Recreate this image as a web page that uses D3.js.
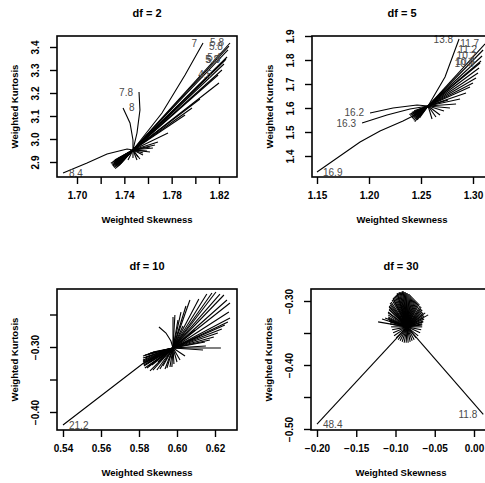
<!DOCTYPE html>
<html>

<head>
    <meta charset='utf-8'>
</head>
<style>
    body {
        margin: 0;
        background: #fff;
    }

    text {
        font-family: "Liberation Sans", Arial, sans-serif;
    }

    .ray {
        fill: none;
        stroke: #000;
        stroke-width: 1.1px;
    }

    .box {
        fill: none;
        stroke: #000;
        stroke-width: 1.6px;
    }

    .lab {
        fill: #4a4a4a;
        font-size: 10px;
    }

    .tick text {
        font-weight: bold;
        font-size: 10px;
        fill: #000;
    }

    .tick line {
        stroke: #000;
        stroke-width: 1.4px;
    }

    .ttl {
        font-weight: bold;
        font-size: 11px;
    }

    .axt {
        font-weight: bold;
        font-size: 9.5px;
    }
</style>

<body>
    <div id='chart'></div>
    <script src="https://d3js.org/d3.v7.min.js"></script>
    <script>
        // ---- df = 2 ----
        var df2Center = [1.7473, 2.9522];
        var df2Curves = [
            { label: "8.4", pts: [[1.6882, 2.852], [1.7085, 2.8957], [1.7254, 2.9348], [1.7423, 2.9565]] },
            { label: "8", pts: [[1.7389, 3.1348], [1.7448, 3.0696], [1.7473, 2.9957]] },
            { label: "7.8", pts: [[1.7524, 3.2043], [1.7532, 3.126], [1.7507, 3.026]] },
            { label: "7", pts: [[1.8065, 3.417], [1.7913, 3.278], [1.7718, 3.113]] },
            { label: "5.8", pts: [[1.8293, 3.4174]] },
            { label: "5.8", pts: [[1.8284, 3.4043]] },
            { label: "5.4", pts: [[1.8268, 3.3565]] },
            { label: "5.3", pts: [[1.8259, 3.3478]] },
            { label: "5.8", pts: [[1.8251, 3.3435]] },
            { label: "4.5", pts: [[1.8192, 3.2783]] }
        ];
        var df2Rays = [
            [1.8276, 3.3870], [1.8242, 3.3261], [1.8225, 3.30], [1.8200, 3.2435],
            [1.8039, 3.1739], [1.7972, 3.1348], [1.7913, 3.1043],
            [1.7769, 3.0261], [1.7684, 2.9870], [1.7659, 2.9739],
            [1.7617, 2.9652], [1.7592, 2.9478], [1.7558, 2.9304], [1.7532, 2.9130], [1.7507, 2.9087],
            [1.7294, 2.8896], [1.7299, 2.8861], [1.7304, 2.8826], [1.7309, 2.8791], [1.7314, 2.8757],
            [1.7311, 2.8965], [1.7316, 2.8930], [1.7321, 2.8896], [1.7326, 2.8861], [1.7331, 2.8826],
            [1.7328, 2.9035], [1.7333, 2.9000], [1.7338, 2.8965], [1.7343, 2.8930], [1.7348, 2.8896],
            [1.7345, 2.9104], [1.7350, 2.9070], [1.7355, 2.9035], [1.7360, 2.9000], [1.7365, 2.8965],
            [1.7362, 2.9174], [1.7372, 2.9104], [1.7382, 2.9035],
            [1.7323, 2.8709], [1.7286, 2.8943], [1.7340, 2.8778], [1.7303, 2.9013], [1.7357, 2.8848],
            [1.7319, 2.9083], [1.7371, 2.8935], [1.7339, 2.9135],
            [1.7431, 2.9087], [1.7473, 2.9174], [1.7516, 2.9217], [1.7558, 2.9391], [1.7617, 2.9435], [1.7642, 2.9609]
        ];
        var df2XTicks = [1.70, 1.72, 1.74, 1.76, 1.78, 1.80, 1.82];
        var df2XLabels = [1.70, 1.74, 1.78, 1.82];
        var df2YTicks = [2.9, 3.0, 3.1, 3.2, 3.3, 3.4];
        var df2YLabels = [2.9, 3.0, 3.1, 3.2, 3.3, 3.4];

        // ---- df = 5 ----
        var df5Center = [1.2568, 1.6083];
        var df5Curves = [
            { label: "16.9", pts: [[1.15, 1.3333], [1.1914, 1.4583], [1.2106, 1.5042], [1.2327, 1.5458], [1.2442, 1.5708]] },
            { label: "16.3", pts: [[1.1933, 1.5375], [1.2173, 1.5708], [1.2394, 1.5958]] },
            { label: "16.2", pts: [[1.2010, 1.5792], [1.2231, 1.6], [1.2462, 1.6125]] },
            { label: "13.8", pts: [[1.2866, 1.8875], [1.2731, 1.7292]] },
            { label: "11.7", pts: [[1.3116, 1.8667]] },
            { label: "11.2", pts: [[1.3097, 1.8417]] },
            { label: "10.2", pts: [[1.3087, 1.8167]] },
            { label: "10.8", pts: [[1.3077, 1.7958]] },
            { label: "10.9", pts: [[1.3068, 1.7875]] }
        ];
        var df5Rays = [
            [1.3058, 1.7667], [1.3048, 1.7458], [1.3029, 1.725], [1.3000, 1.7042], [1.2971, 1.6875],
            [1.2933, 1.6625], [1.2875, 1.6375], [1.2837, 1.6167], [1.2779, 1.6], [1.2721, 1.5875],
            [1.2683, 1.5708], [1.2644, 1.5625], [1.2606, 1.5542], [1.2760, 1.6333],
            [1.2397, 1.5683], [1.2405, 1.5633], [1.2414, 1.5583], [1.2423, 1.5533], [1.2431, 1.5483],
            [1.2420, 1.5758], [1.2428, 1.5708], [1.2437, 1.5658], [1.2446, 1.5608], [1.2454, 1.5558],
            [1.2443, 1.5833], [1.2451, 1.5783], [1.2460, 1.5733], [1.2469, 1.5683], [1.2477, 1.5633],
            [1.2466, 1.5908], [1.2483, 1.5808], [1.2500, 1.5733],
            [1.2440, 1.5433], [1.2388, 1.5733], [1.2463, 1.5508], [1.2411, 1.5808], [1.2486, 1.5583], [1.2434, 1.5883]
        ];
        var df5XTicks = [1.15, 1.20, 1.25, 1.30];
        var df5XLabels = [1.15, 1.20, 1.25, 1.30];
        var df5YTicks = [1.4, 1.5, 1.6, 1.7, 1.8, 1.9];
        var df5YLabels = [1.4, 1.5, 1.6, 1.7, 1.8, 1.9];

        // ---- df = 10 ----
        var df10Center = [0.5979, -0.3015];
        var df10Curves = [
            { label: "21.2", pts: [[0.54, -0.42], [0.5831, -0.3231]] },
            { label: "", pts: [[0.5905, -0.2692], [0.5942, -0.2785], [0.5968, -0.2908]] }
        ];
        var df10Rays = [
            [0.6115, -0.2262], [0.6157, -0.2185], [0.6184, -0.2169], [0.6205, -0.2154], [0.6226, -0.2185],
            [0.6247, -0.2200], [0.6263, -0.2277], [0.6279, -0.2323], [0.6273, -0.2462], [0.6279, -0.2554],
            [0.6268, -0.2615], [0.6252, -0.2662], [0.6236, -0.2723], [0.6215, -0.2785], [0.6194, -0.2846],
            [0.6173, -0.2892], [0.6231, -0.3015], [0.6152, -0.2985], [0.6137, -0.3046], [0.6068, -0.2277],
            [0.6047, -0.2369], [0.6021, -0.2462], [0.6005, -0.2585], [0.6031, -0.2677], [0.6094, -0.2738],
            [0.6121, -0.2831], [0.6147, -0.2923], [0.5979, -0.2538], [0.5989, -0.2508],
            [0.5821, -0.3215], [0.5826, -0.3277], [0.5831, -0.3169], [0.5842, -0.3323], [0.5858, -0.3369],
            [0.5873, -0.3354], [0.5894, -0.3354], [0.5910, -0.3338], [0.5926, -0.3292], [0.5937, -0.3338],
            [0.5947, -0.3323], [0.5963, -0.3308], [0.5973, -0.3308], [0.5984, -0.3262], [0.6000, -0.3231],
            [0.6016, -0.3200], [0.6042, -0.3138], [0.5847, -0.3246], [0.5858, -0.3200], [0.5884, -0.3154],
            [0.5868, -0.3277], [0.5900, -0.3231], [0.5837, -0.3231], [0.5852, -0.3292],
            [0.5821, -0.3138], [0.5821, -0.3169], [0.5821, -0.3200], [0.5821, -0.3231], [0.5821, -0.3262],
            [0.5826, -0.3292], [0.5831, -0.3323], [0.5837, -0.3154], [0.5831, -0.3123], [0.5847, -0.3108],
            [0.5858, -0.3092], [0.5873, -0.3077]
        ];
        var df10XTicks = [0.54, 0.56, 0.58, 0.60, 0.62];
        var df10XLabels = [0.54, 0.56, 0.58, 0.60, 0.62];
        var df10YTicks = [-0.25, -0.30, -0.35, -0.40];
        var df10YLabels = [-0.30, -0.40];

        // ---- df = 30 ----
        var df30Center = [-0.0852, -0.3404];
        var df30Curves = [
            { label: "48.4", pts: [[-0.20, -0.4925]] },
            { label: "11.8", pts: [[0.0118, -0.4770]] }
        ];
        var df30Rays = [
            [-0.0941, -0.2860], [-0.0915, -0.2845], [-0.0890, -0.2860], [-0.0864, -0.2876], [-0.0839, -0.2891],
            [-0.0813, -0.2907], [-0.0788, -0.2938], [-0.0762, -0.2969], [-0.0737, -0.3000], [-0.0711, -0.3031],
            [-0.0686, -0.3078], [-0.0673, -0.3124], [-0.0660, -0.3171], [-0.0647, -0.3217], [-0.0647, -0.3264],
            [-0.0647, -0.3311], [-0.0660, -0.3357], [-0.0660, -0.3404], [-0.0673, -0.3450], [-0.0686, -0.3497],
            [-0.0711, -0.3544], [-0.0737, -0.3575], [-0.0762, -0.3606], [-0.0788, -0.3621], [-0.0813, -0.3637],
            [-0.0839, -0.3652], [-0.0864, -0.3652], [-0.0890, -0.3652], [-0.0915, -0.3637], [-0.0941, -0.3621],
            [-0.0966, -0.3606], [-0.0992, -0.3575], [-0.1018, -0.3544], [-0.1030, -0.3497], [-0.1043, -0.3450],
            [-0.1056, -0.3404], [-0.1069, -0.3357], [-0.1081, -0.3311], [-0.1094, -0.3264], [-0.1094, -0.3217],
            [-0.1094, -0.3171], [-0.1081, -0.3124], [-0.1081, -0.3078], [-0.1069, -0.3031], [-0.1043, -0.2984],
            [-0.1030, -0.2953], [-0.1005, -0.2922], [-0.0979, -0.2891], [-0.0966, -0.2876],
            [-0.1222, -0.3326], [-0.1171, -0.3280], [-0.1132, -0.3264], [-0.0584, -0.3217], [-0.0622, -0.3186],
            [-0.0928, -0.2860], [-0.0903, -0.2845], [-0.0877, -0.2860], [-0.0852, -0.2876], [-0.0826, -0.2891],
            [-0.0801, -0.2922], [-0.0775, -0.2953], [-0.0750, -0.2984], [-0.0724, -0.3016], [-0.0698, -0.3047],
            [-0.0673, -0.3093], [-0.0660, -0.3140], [-0.0647, -0.3186], [-0.0635, -0.3233], [-0.0635, -0.3280],
            [-0.0647, -0.3326], [-0.0660, -0.3373],
            [-0.1069, -0.3326], [-0.1081, -0.3295], [-0.1094, -0.3248], [-0.1094, -0.3186],
            [-0.1081, -0.3140], [-0.1081, -0.3093], [-0.1069, -0.3062], [-0.1056, -0.3016], [-0.1030, -0.2969],
            [-0.1018, -0.2938], [-0.0992, -0.2907], [-0.0979, -0.2876], [-0.0954, -0.2860]
        ];
        var df30XTicks = [-0.20, -0.15, -0.10, -0.05, 0.00];
        var df30XLabels = [-0.20, -0.15, -0.10, -0.05, 0.00];
        var df30YTicks = [-0.30, -0.35, -0.40, -0.45, -0.50];
        var df30YLabels = [-0.30, -0.40, -0.50];

        // labels that sit on the left of a line end
        var leftLabels = ["16.2", "16.3"];

        var width = 485,
            height = 483;

        var panels = [
            { title: "df = 2", center: df2Center, curves: df2Curves, rays: df2Rays,
              xt: df2XTicks, xl: df2XLabels, yt: df2YTicks, yl: df2YLabels, fx: ".2f", fy: ".1f",
              box: [57, 237, 36, 177], xs: [[1.70, 1.82], [77, 219]], ys: [[2.9, 3.4], [162, 47]] },
            { title: "df = 5", center: df5Center, curves: df5Curves, rays: df5Rays,
              xt: df5XTicks, xl: df5XLabels, yt: df5YTicks, yl: df5YLabels, fx: ".2f", fy: ".1f",
              box: [312, 492, 36, 177], xs: [[1.15, 1.30], [317, 473]], ys: [[1.4, 1.9], [156, 36]] },
            { title: "df = 10", center: df10Center, curves: df10Curves, rays: df10Rays,
              xt: df10XTicks, xl: df10XLabels, yt: df10YTicks, yl: df10YLabels, fx: ".2f", fy: ".2f",
              box: [57, 237, 289, 430], xs: [[0.54, 0.62], [63, 215]], ys: [[-0.30, -0.40], [347, 412]] },
            { title: "df = 30", center: df30Center, curves: df30Curves, rays: df30Rays,
              xt: df30XTicks, xl: df30XLabels, yt: df30YTicks, yl: df30YLabels, fx: ".2f", fy: ".2f",
              box: [311, 491, 289, 430], xs: [[-0.20, 0.00], [317, 474]], ys: [[-0.30, -0.50], [301, 429]] }
        ];

        var svg = d3.select('#chart').append('svg')
            .attr('width', width)
            .attr('height', height);

        function has(list, v) {
            return list.some(function(d) { return Math.abs(d - v) < 1e-9; });
        }

        panels.forEach(function(p, i) {
            var x = d3.scaleLinear().domain(p.xs[0]).range(p.xs[1]);
            var y = d3.scaleLinear().domain(p.ys[0]).range(p.ys[1]);
            var L = p.box[0], R = p.box[1], T = p.box[2], B = p.box[3];
            var g = svg.append('g');

            g.append('clipPath').attr('id', 'clip' + i)
                .append('rect').attr('x', L).attr('y', T).attr('width', R - L).attr('height', B - T);

            var line = d3.line().x(function(d) { return x(d[0]); }).y(function(d) { return y(d[1]); });
            var plot = g.append('g').attr('clip-path', 'url(#clip' + i + ')');

            plot.selectAll('.r').data(p.rays).enter().append('path')
                .attr('class', 'ray')
                .attr('d', function(d) { return line([p.center, d]); });

            plot.selectAll('.c').data(p.curves).enter().append('path')
                .attr('class', 'ray')
                .attr('d', function(d) { return line(d.pts.concat([p.center])); });

            function onLeft(d) {
                return d.pts[0][0] > p.center[0] || leftLabels.indexOf(d.label) >= 0;
            }

            g.selectAll('.lab').data(p.curves.filter(function(d) { return d.label; })).enter().append('text')
                .attr('class', 'lab')
                .attr('x', function(d) { return x(d.pts[0][0]) + (onLeft(d) ? -6 : 6); })
                .attr('y', function(d) { return y(d.pts[0][1]); })
                .attr('dy', '0.35em')
                .attr('text-anchor', function(d) { return onLeft(d) ? 'end' : 'start'; })
                .text(function(d) { return d.label; });

            g.append('rect').attr('class', 'box')
                .attr('x', L).attr('y', T).attr('width', R - L).attr('height', B - T);

            var fx = d3.format(p.fx), fy = d3.format(p.fy);
            var xa = g.append('g').attr('transform', 'translate(0,' + B + ')')
                .call(d3.axisBottom(x).tickValues(p.xt).tickSize(7).tickSizeOuter(0).tickPadding(8)
                    .tickFormat(function(d) { return has(p.xl, d) ? fx(d) : ''; }));
            xa.select('.domain').remove();

            var ya = g.append('g').attr('transform', 'translate(' + L + ',0)')
                .call(d3.axisLeft(y).tickValues(p.yt).tickSize(7).tickSizeOuter(0)
                    .tickFormat(function(d) { return has(p.yl, d) ? fy(d) : ''; }));
            ya.select('.domain').remove();
            ya.selectAll('.tick text')
                .attr('transform', 'rotate(-90)')
                .attr('x', 0)
                .attr('y', -18)
                .attr('dy', 0)
                .style('text-anchor', 'middle');

            var cx = (L + R) / 2;
            g.append('text').attr('class', 'ttl')
                .attr('x', cx).attr('y', T - 23).attr('dy', '0.35em')
                .attr('text-anchor', 'middle').text(p.title);
            g.append('text').attr('class', 'axt')
                .attr('x', cx).attr('y', B + 43).attr('dy', '0.35em')
                .attr('text-anchor', 'middle').text('Weighted Skewness');
            g.append('text').attr('class', 'axt')
                .attr('transform', 'translate(' + (L - 42) + ',' + ((T + B) / 2) + ') rotate(-90)')
                .attr('dy', '0.35em')
                .attr('text-anchor', 'middle').text('Weighted Kurtosis');
        });
    </script>
</body>

</html>
